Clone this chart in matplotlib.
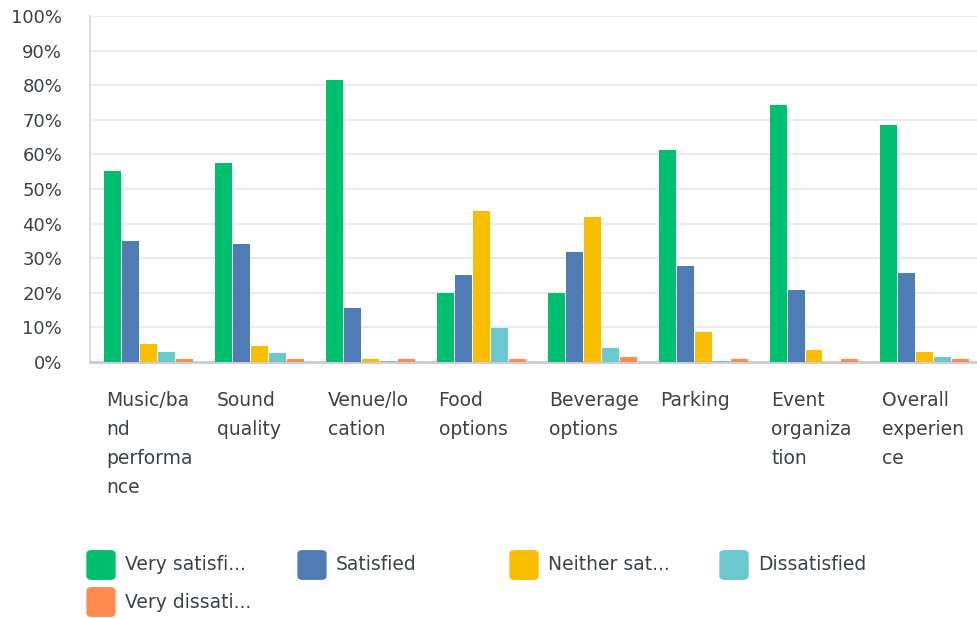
import numpy as np
import matplotlib.pyplot as plt
from matplotlib.patches import FancyBboxPatch
from matplotlib.ticker import PercentFormatter

categories = [
    ["Music/ba", "nd", "performa", "nce"],
    ["Sound", "quality"],
    ["Venue/lo", "cation"],
    ["Food", "options"],
    ["Beverage", "options"],
    ["Parking"],
    ["Event", "organiza", "tion"],
    ["Overall", "experien", "ce"],
]
series_names = ["Very satisfi...", "Satisfied", "Neither sat...", "Dissatisfied", "Very dissati..."]
very_satisfied = [55.1, 57.4, 81.5, 20.0, 20.0, 61.4, 74.2, 68.4]
satisfied = [35.0, 34.2, 15.6, 25.2, 31.8, 27.8, 20.8, 25.8]
neither = [5.1, 4.6, 0.8, 43.5, 42.0, 8.6, 3.4, 2.8]
dissatisfied = [2.8, 2.5, 0.2, 9.8, 4.0, 0.2, 0.0, 1.4]
very_dissatisfied = [0.8, 0.8, 0.8, 0.8, 1.4, 0.8, 0.8, 0.8]
colors = ["#00bf6f", "#507cb6", "#f9be00", "#6bc8cd", "#ff8b4f"]

series = [very_satisfied, satisfied, neither, dissatisfied, very_dissatisfied]

fig = plt.figure(figsize=(9.77, 6.18), dpi=100)
ax = fig.add_axes([90/977, 1-362/618, 887/977, 346/618])

x = np.arange(len(categories))
step = 0.162
for i, vals in enumerate(series):
    ax.bar(x + (i - 2) * step + 0.03, vals, width=step - 0.009, color=colors[i], zorder=3)

ax.set_xlim(-0.5, len(categories) - 0.5)
ax.set_ylim(0, 100)
ax.set_yticks(np.arange(0, 101, 10))
ax.yaxis.set_major_formatter(PercentFormatter(decimals=0))
ax.tick_params(axis='y', length=0, pad=20, labelsize=13, labelcolor='#3b4349')
ax.set_xticks([])
ax.grid(axis='y', color='#ebebeb', linewidth=1.6, zorder=0)
for s in ['top', 'right']:
    ax.spines[s].set_visible(False)
ax.spines['left'].set_color('#d9d9d9')
ax.spines['left'].set_linewidth(1.2)
ax.spines['bottom'].set_color('#cccccc')
ax.spines['bottom'].set_linewidth(2)

for i, lines in enumerate(categories):
    ax.text(i - 0.5 + 16/111, -29/346, "\n".join(lines),
            transform=ax.get_xaxis_transform(), ha='left', va='top',
            fontsize=13.5, color='#3b4349', linespacing=1.66)

# legend
leg_x = [87, 298, 510, 720, 87]
leg_y = [565, 565, 565, 565, 602]
for i, name in enumerate(series_names):
    px, py = leg_x[i], leg_y[i]
    fig.patches.append(FancyBboxPatch(((px + 2)/977, 1 - (py + 13)/618), 24/977, 26/618,
                                      boxstyle="round,pad=0.002,rounding_size=0.005",
                                      transform=fig.transFigure, color=colors[i]))
    fig.text((px + 38)/977, 1 - py/618, name, ha='left', va='center',
             fontsize=13.5, color='#3b4349')

fig.savefig("out.png", dpi=100)
